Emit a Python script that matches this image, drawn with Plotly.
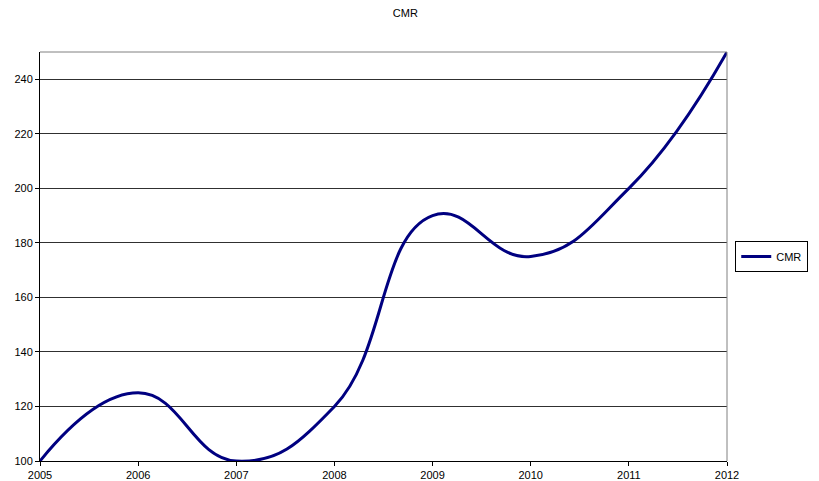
import plotly.graph_objects as go

# Datos de la serie CMR
anios = [2005, 2006, 2007, 2008, 2009, 2010, 2011, 2012]
cmr = [100, 125, 100, 120, 190, 175, 200, 250]

y_ticks = [100, 120, 140, 160, 180, 200, 220, 240]

fig = go.Figure()

fig.add_trace(go.Scatter(x=anios, y=cmr,
                         mode='lines',
                         line=dict(color='#000080', width=3, shape='spline', smoothing=1.3),
                         name='CMR'))

# La página tiene un margen de 8px, se compensa en el tamaño y márgenes
fig.update_layout(
    width=811, height=473,
    margin=dict(l=32, r=92, t=44, b=20, autoexpand=False),
    paper_bgcolor='white', plot_bgcolor='white',
    font=dict(family='Arial, Liberation Sans, sans-serif', size=11, color='black'),
    title=dict(text='CMR', x=0.49, xanchor='center', y=0.989, yanchor='middle',
               font=dict(size=11, color='black'), automargin=False),
    showlegend=True,
    legend=dict(x=1.012, y=0.5, xanchor='left', yanchor='middle',
                bordercolor='black', borderwidth=1, bgcolor='white',
                font=dict(size=11), itemwidth=30, tracegroupgap=0),
)

fig.update_xaxes(range=[2005, 2012], tickvals=anios, ticktext=[str(a) for a in anios],
                 showgrid=False, zeroline=False, automargin=False,
                 showline=True, linecolor='black', linewidth=1, mirror=False,
                 ticks='outside', ticklen=4, tickcolor='black')

fig.update_yaxes(range=[100, 250], tickvals=y_ticks,
                 showgrid=True, gridcolor='#303030', gridwidth=1, zeroline=False,
                 automargin=False,
                 showline=True, linecolor='black', linewidth=1,
                 ticks='outside', ticklen=4, tickcolor='black')

# Borde superior y derecho gris del área de trazado
fig.add_shape(type='line', xref='paper', yref='paper', x0=0, x1=1, y0=1, y1=1,
              line=dict(color='#808080', width=1))
fig.add_shape(type='line', xref='paper', yref='paper', x0=1, x1=1, y0=0, y1=1,
              line=dict(color='#808080', width=1))

fig.write_html("out.html")
